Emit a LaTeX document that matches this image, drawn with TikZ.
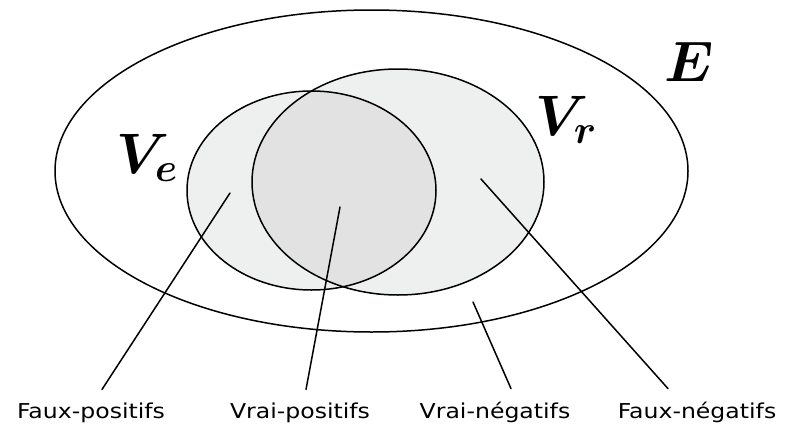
\RequirePackage{fix-cm}
\documentclass[tikz,border=0pt]{standalone}
\usepackage{fontspec}
\usepackage{bm}
\newfontfamily\lblfont[FakeStretch=1.15]{DejaVu Sans}
\definecolor{setgray}{HTML}{EEEFEF}
\definecolor{bothgray}{HTML}{E2E2E2}
\begin{document}
\begin{tikzpicture}[x=1pt,y=-1pt,line join=round,line cap=round,line width=1.5pt,
	lbl/.style={font=\lblfont\fontsize{20.5}{24}\selectfont,anchor=base,inner sep=2pt,outer sep=11pt},
	setname/.style={font=\fontsize{57}{62}\selectfont,inner sep=0pt}]
		\useasboundingbox (0,0) rectangle (787,423);
		% the three sets
		\draw[fill=white] (371.5,171) ellipse [x radius=316.5,y radius=161];
		\fill[setgray] (311.5,190.5) ellipse [x radius=124.5,y radius=99.5];
		\fill[setgray] (398,182) ellipse [x radius=146,y radius=113];
		\begin{scope}
			\clip (311.5,190.5) ellipse [x radius=124.5,y radius=99.5];
			\fill[bothgray] (398,182) ellipse [x radius=146,y radius=113];
		\end{scope}
		\draw (311.5,190.5) ellipse [x radius=124.5,y radius=99.5];
		\draw (398,182) ellipse [x radius=146,y radius=113];
		\node[setname] (E) at (689,62) {$\bm{E}$};
		\node[setname] (Ve) at (147,158) {$\bm{V_e}$};
		\node[setname] (Vr) at (566,120) {$\bm{V_r}$};
		% pointers into the regions
		\coordinate (fp) at (230,193);
		\coordinate (vp) at (340,207);
		\coordinate (vn) at (473,302);
		\coordinate (fn) at (481,179);
		\node[lbl] (Lfp) at (91,418) {Faux-positifs};
		\node[lbl] (Lvp) at (300,418) {Vrai-positifs};
		\node[lbl] (Lvn) at (495,418) {Vrai-négatifs};
		\node[lbl] (Lfn) at (697,418) {Faux-négatifs};
		\draw (fp) -- ([xshift=11pt]Lfp.north);
		\draw (vp) -- ([xshift=6pt]Lvp.north);
		\draw (vn) -- ([xshift=16pt]Lvn.north);
		\draw (fn) -- ([xshift=-29pt]Lfn.north);
\end{tikzpicture}
\end{document}
